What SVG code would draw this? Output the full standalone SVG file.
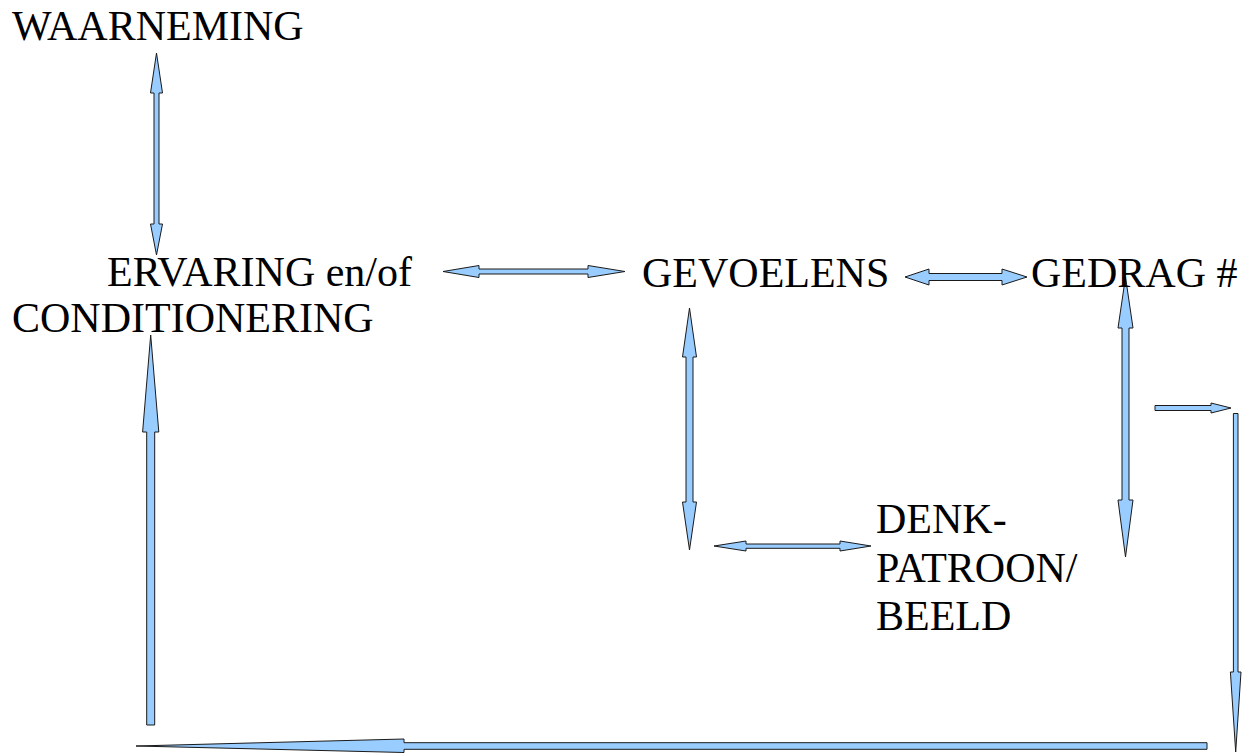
<svg xmlns="http://www.w3.org/2000/svg" width="1250" height="753" viewBox="0 0 1250 753">
<style>
.lbl{font-family:"Liberation Serif","Times New Roman",serif;font-size:42px;fill:#000}
.arr{fill:#99ccff;stroke:#1a1a1a;stroke-width:1;stroke-linejoin:miter}
</style>
<rect width="1250" height="753" fill="#fff"/>
<g id="connectors">
<polygon class="arr" points="156.5,53 162.5,93 159,93 159,224 162.5,224 156.5,255 150.5,224 154,224 154,93 150.5,93"/>
<polygon class="arr" points="443,271.5 479,265.5 479,269 588,269 588,265.5 625,271.5 588,277.5 588,274 479,274 479,277.5"/>
<polygon class="arr" points="905,277 929,269 929,273.5 1002,273.5 1002,269 1027,277 1002,285 1002,280.5 929,280.5 929,285"/>
<polygon class="arr" points="1125.5,277 1133,328 1129,328 1129,500 1133,500 1125.5,557 1118,500 1122,500 1122,328 1118,328"/>
<polygon class="arr" points="1155,405.5 1211,405.5 1211,403 1231,408 1211,413 1211,410.5 1155,410.5"/>
<polygon class="arr" points="1233.4,413.5 1238,413.5 1238,672 1241,672 1235.7,752 1230.4,672 1233.4,672"/>
<polygon class="arr" points="1207,742.7 1207,749.3 404,749.3 404,752.5 136,746 404,739 404,742.7"/>
<polygon class="arr" points="150.7,335 158.8,432 154.7,432 154.7,725 146.7,725 146.7,432 142.6,432"/>
<polygon class="arr" points="689.5,308 696.5,357 693,357 693,502 696.5,502 689.5,550 682.5,502 686,502 686,357 682.5,357"/>
<polygon class="arr" points="714,546 746,541 746,544 840,544 840,541 871,546 840,551 840,548.3 746,548.3 746,551"/>
</g>
<g id="waarneming"><text class="lbl" x="12" y="40">WAARNEMING</text></g>
<g id="ervaring"><text class="lbl" x="107" y="286">ERVARING en/of</text><text class="lbl" x="12" y="332">CONDITIONERING</text></g>
<g id="gevoelens"><text class="lbl" x="642" y="287">GEVOELENS</text></g>
<g id="gedrag"><text class="lbl" x="1031" y="287">GEDRAG #</text></g>
<g id="denkpatroon"><text class="lbl" x="876" y="533">DENK-</text><text class="lbl" x="876" y="582">PATROON/</text><text class="lbl" x="876" y="630">BEELD</text></g>
</svg>
